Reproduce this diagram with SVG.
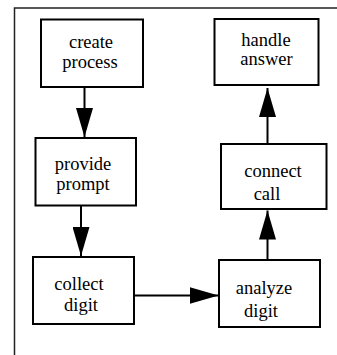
<svg xmlns="http://www.w3.org/2000/svg" width="337" height="355" viewBox="0 0 337 355">
<defs>
<style>
.frame{fill:none;stroke:#222;stroke-width:1.5}
.box{fill:#fff;stroke:#000;stroke-width:2}
.edge{fill:none;stroke:#000;stroke-width:2;marker-end:url(#ah)}
.lbl{font-family:'Liberation Serif','Times New Roman',Times,serif;font-size:18.5px;fill:#000;text-anchor:middle}
</style>
<marker id="ah" viewBox="0 0 29 17" refX="29" refY="8.5" markerWidth="29" markerHeight="17" markerUnits="userSpaceOnUse" orient="auto">
<path d="M0,0 L29,8.5 L0,17 Z" fill="#000"/>
</marker>
</defs>
<rect width="337" height="355" fill="#fff"/>
<path class="frame" d="M14.5,355 V8 H337"/>
<g id="connectors">
<line class="edge" x1="84.5" y1="87" x2="84.5" y2="137"/>
<line class="edge" x1="81" y1="206" x2="81" y2="256"/>
<line class="edge" x1="134" y1="295.5" x2="218.5" y2="295.5"/>
<line class="edge" x1="267.5" y1="260" x2="267.5" y2="210.5"/>
<line class="edge" x1="267.5" y1="144" x2="267.5" y2="88"/>
</g>
<g font-family="Liberation Serif, Times New Roman, serif">
<g id="create_process">
<rect class="box" x="41" y="19.5" width="102" height="67.5"/>
<text class="lbl" x="91" y="48">create</text>
<text class="lbl" x="90" y="68">process</text>
</g>
<g id="provide_prompt">
<rect class="box" x="35.5" y="138" width="100.5" height="67.5"/>
<text class="lbl" x="83" y="170">provide</text>
<text class="lbl" x="83" y="190">prompt</text>
</g>
<g id="collect_digit">
<rect class="box" x="33" y="257" width="101" height="67"/>
<text class="lbl" x="79" y="290">collect</text>
<text class="lbl" x="81" y="311">digit</text>
</g>
<g id="analyze_digit">
<rect class="box" x="219" y="260" width="101" height="67"/>
<text class="lbl" x="264" y="294">analyze</text>
<text class="lbl" x="261" y="317">digit</text>
</g>
<g id="connect_call">
<rect class="box" x="221" y="144" width="105.5" height="65"/>
<text class="lbl" x="273" y="177">connect</text>
<text class="lbl" x="267" y="200">call</text>
</g>
<g id="handle_answer">
<rect class="box" x="214.5" y="19" width="104" height="66"/>
<text class="lbl" x="266" y="46">handle</text>
<text class="lbl" x="266.5" y="65">answer</text>
</g>
</g>
</svg>
